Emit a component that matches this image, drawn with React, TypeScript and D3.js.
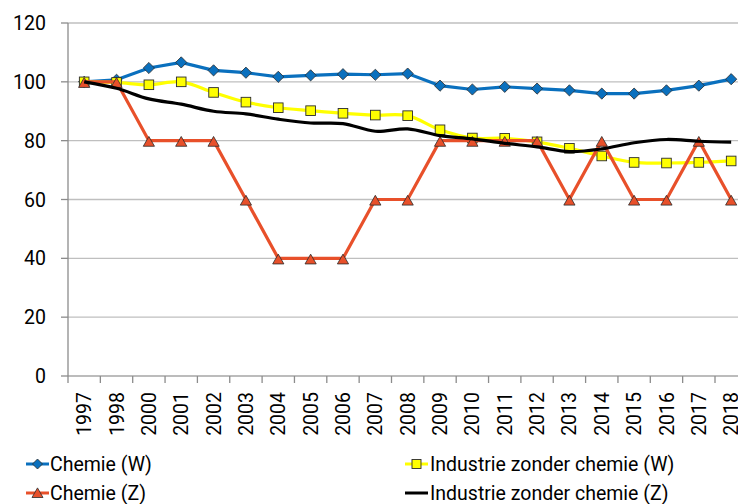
import React from "react";
import * as d3 from "d3";

const years = ["1997","1998","2000","2001","2002","2003","2004","2005","2006","2007","2008","2009","2010","2011","2012","2013","2014","2015","2016","2017","2018"];
const chemieW = [100,100.7,104.7,106.6,103.9,103.1,101.7,102.2,102.6,102.4,102.8,98.7,97.4,98.3,97.7,97.1,96.0,96.0,97.1,98.7,100.9];
const industrieW = [100,99.8,99.0,100.0,96.4,93.1,91.2,90.2,89.3,88.7,88.5,83.7,80.9,80.8,79.6,77.4,74.8,72.6,72.4,72.6,73.1];
const chemieZ = [100,100,80,80,80,60,40,40,40,60,60,80,80,80,80,60,80,60,60,80,60];
const industrieZ = [100,97.8,94.2,92.4,90.0,89.1,87.3,86.0,85.8,83.2,84.0,81.7,80.6,79.1,77.9,76.3,77.2,79.3,80.4,79.8,79.5];
const yTicks = [0,20,40,60,80,100,120];

const W = 738, H = 504;
const left = 68, top = 23, bottom = 376;
const band = 32.35;
const right = left + band * years.length;
const FONT = "Roboto, 'Noto Sans', sans-serif";

export default function App() {
  const x = d3.scaleBand<string>().domain(years).range([left, right]).padding(0);
  const y = d3.scaleLinear().domain([0, 120]).range([bottom, top]);
  const cx = (i: number) => (x(years[i]) as number) + x.bandwidth() / 2;

  const lin = d3.line<number>().x((_, i) => cx(i)).y((v) => y(v));
  const smooth = d3.line<number>().x((_, i) => cx(i)).y((v) => y(v)).curve(d3.curveCatmullRom.alpha(0.5));

  const diamond = (px: number, py: number, r = 5.6) => `M${px},${py - r}L${px + r},${py}L${px},${py + r}L${px - r},${py}Z`;
  const tri = (px: number, py: number, r = 5.6) => `M${px},${py - r * 0.75}L${px + r},${py + r}L${px - r},${py + r}Z`;

  const blue = "#0A70BE";
  const orange = "#E8502A";
  const yellow = "#FFFF00";
  const outline = "#2b2b2b";

  return (
    <svg width={W} height={H} style={{ position: "absolute", left: 0, top: 0, background: "#fff" }} fontFamily={FONT}>
      {yTicks.map((t) => (
        <line key={"g" + t} x1={left} x2={right} y1={y(t)} y2={y(t)} stroke={t === 0 ? "#a6a6a6" : "#bfbfbf"} strokeWidth={1.3} />
      ))}
      <line x1={left} x2={left} y1={top} y2={bottom + 7} stroke="#8c8c8c" strokeWidth={1.3} />
      {yTicks.map((t) => (
        <g key={"yt" + t}>
          <line x1={left - 7} x2={left} y1={y(t)} y2={y(t)} stroke="#8c8c8c" strokeWidth={1.3} />
          <text x={46} y={y(t)} dy="0.36em" textAnchor="end" fontSize={19.5} fill="#000">{t}</text>
        </g>
      ))}
      {years.map((yr, i) => (
        <g key={"xt" + yr}>
          <line x1={(x(yr) as number) + band} x2={(x(yr) as number) + band} y1={bottom} y2={bottom + 7} stroke="#8c8c8c" strokeWidth={1.3} />
          <text transform={`translate(${cx(i)},${392}) rotate(-90)`} textAnchor="end" dy="0.36em" fontSize={19.5} fill="#000">{yr}</text>
        </g>
      ))}

      <path d={lin(chemieW) as string} fill="none" stroke={blue} strokeWidth={3.2} />
      {chemieW.map((v, i) => (
        <path key={"cw" + i} d={diamond(cx(i), y(v))} fill={blue} stroke={outline} strokeWidth={0.8} />
      ))}
      <path d={smooth(industrieW) as string} fill="none" stroke={yellow} strokeWidth={3.2} />
      {industrieW.map((v, i) => (
        <rect key={"iw" + i} x={cx(i) - 4.8} y={y(v) - 4.8} width={9.6} height={9.6} fill={yellow} stroke={outline} strokeWidth={0.9} />
      ))}
      <path d={lin(chemieZ) as string} fill="none" stroke={orange} strokeWidth={3.2} />
      {chemieZ.map((v, i) => (
        <path key={"cz" + i} d={tri(cx(i), y(v))} fill={orange} stroke={outline} strokeWidth={0.8} />
      ))}
      <path d={smooth(industrieZ) as string} fill="none" stroke="#000" strokeWidth={3.2} />

      <g fontSize={19.5} fill="#000">
        <line x1={26} x2={49} y1={464} y2={464} stroke={blue} strokeWidth={3} />
        <path d={diamond(37.5, 464, 5)} fill={blue} stroke={outline} strokeWidth={0.8} />
        <text x={50} y={464} dy="0.36em">Chemie (W)</text>

        <line x1={405} x2={428} y1={464} y2={464} stroke={yellow} strokeWidth={3} />
        <rect x={412} y={459.5} width={9} height={9} fill={yellow} stroke={outline} strokeWidth={0.9} />
        <text x={430} y={464} dy="0.36em">Industrie zonder chemie (W)</text>

        <line x1={26} x2={49} y1={493} y2={493} stroke={orange} strokeWidth={3} />
        <path d={tri(37.5, 492, 5.5)} fill={orange} stroke={outline} strokeWidth={0.8} />
        <text x={50} y={493} dy="0.36em">Chemie (Z)</text>

        <line x1={405} x2={428} y1={493} y2={493} stroke="#000" strokeWidth={3} />
        <text x={430} y={493} dy="0.36em">Industrie zonder chemie (Z)</text>
      </g>
    </svg>
  );
}
